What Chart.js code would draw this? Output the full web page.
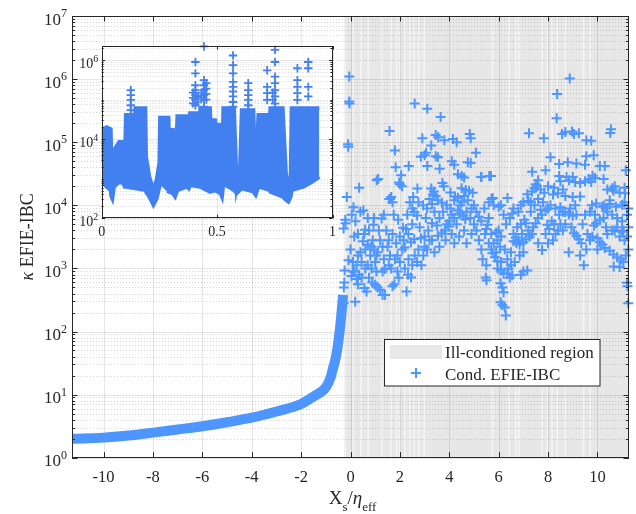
<!DOCTYPE html>
<html>
<head>
<meta charset="utf-8">
<script src="https://cdn.jsdelivr.net/npm/chart.js@4/dist/chart.umd.min.js"></script>
<style>
  html, body { margin: 0; padding: 0; background: #fff; }
  #wrap { position: relative; width: 636px; height: 514px; }
  #main { position: absolute; left: 0; top: 0; }
  #inset { position: absolute; left: 60px; top: 36px; }
</style>
</head>
<body>
<div id="wrap">
  <canvas id="main" width="636" height="514"></canvas>
  <canvas id="inset" width="285" height="210"></canvas>
</div>
<script>
// ---- main axes
const xRange = [-11.28, 11.28];
const yRange = [1, 1e7];
const xTicks = [-10, -8, -6, -4, -2, 0, 2, 4, 6, 8, 10];
const yDecades = [0, 1, 2, 3, 4, 5, 6, 7];

// ill-conditioned region (grey) and the lighter slits inside it
const illStart = -0.27, illEnd = 11.28;
const illGaps = [-0.22, 0.12, 0.42, 0.72, 1.26, 1.64, 1.87, 2.0, 2.2, 2.4, 2.58, 2.76, 2.98,
                 5.75, 6.43, 6.7, 6.83, 7.77, 7.97, 8.17, 8.37, 8.7, 9.44, 9.71];

// well conditioned branch (dense markers -> thick band)
const curveX = [-11.28, -10, -9, -8, -7, -6, -5, -4, -3, -2, -1.5, -1.0, -0.8, -0.7, -0.6, -0.5, -0.4, -0.35, -0.3];
const curveY = [2.0, 2.08, 2.25, 2.5, 2.8, 3.15, 3.65, 4.3, 5.4, 7.1, 9.3, 13, 19, 27, 38, 65, 140, 230, 380];

// scattered condition numbers [x, kappa]
const condXY = [
  [-0.05, 1.1e6], [-0.05, 4.4e5], [-0.04, 4.1e5], [-0.10, 9.3e4], [-0.09, 8.5e4],
  [1.58, 1.5e5], [1.80, 7.4e4], [2.60, 4.1e5], [3.11, 3.4e5], [3.65, 2.5e5],
  [2.91, 1.15e5], [3.45, 1.3e5], [3.55, 1.2e5], [3.80, 1.07e5], [4.15, 1.12e5],
  [4.30, 1.0e5], [4.83, 1.35e5], [4.87, 1.15e5], [5.08, 6.8e4], [4.75, 4.8e4],
  [3.27, 8.9e4], [3.06, 6.8e4], [3.00, 6.2e4], [2.85, 5.9e4], [3.54, 5.8e4],
  [3.45, 6.0e4], [4.10, 5.0e4], [4.20, 4.4e4], [4.87, 4.7e4], [2.36, 4.2e4],
  [1.83, 4.0e4], [3.11, 4.2e4], [3.61, 3.8e4], [2.05, 3.0e4], [1.06, 2.5e4],
  [1.12, 2.6e4], [5.31, 2.8e4], [4.35, 3.1e4], [4.50, 2.9e4], [4.60, 2.75e4],
  [5.28, 2.8e4], [5.69, 2.9e4], [1.97, 2.3e4], [2.00, 2.15e4], [2.71, 1.85e4],
  [3.27, 1.85e4], [3.72, 2.25e4], [3.78, 2.0e4], [3.38, 1.66e4], [3.35, 1.5e4],
  [2.09, 2.0e4], [0.35, 1.9e4], [2.54, 1.35e4], [1.65, 1.35e4], [1.60, 1.26e4],
  [4.67, 1.74e4], [4.50, 1.86e4], [4.80, 1.7e4], [4.95, 1.58e4], [4.23, 1.38e4],
  [4.35, 1.32e4],
  [8.88, 1.02e6], [8.37, 5.8e5], [8.35, 2.4e5], [7.23, 1.38e5], [7.83, 1.15e5],
  [8.57, 1.35e5], [8.70, 1.45e5], [8.97, 1.48e5], [9.05, 1.35e5], [9.25, 1.38e5],
  [9.55, 1.07e5], [9.75, 1.05e5], [10.55, 1.6e5], [10.52, 1.4e5], [8.10, 5.8e4],
  [9.55, 6.0e4], [9.85, 6.2e4], [5.62, 2.9e4], [7.36, 3.4e4], [8.45, 4.5e4],
  [8.80, 4.8e4], [9.15, 4.6e4], [9.50, 4.4e4], [10.10, 4.2e4], [10.30, 4.2e4],
  [11.15, 3.6e4], [7.90, 3.6e4], [7.60, 2.5e4], [7.50, 2.15e4], [7.45, 1.86e4],
  [7.35, 1.66e4], [8.45, 2.9e4], [8.50, 2.4e4], [8.75, 2.8e4], [8.85, 2.5e4],
  [9.00, 2.8e4], [9.10, 2.35e4], [9.30, 2.25e4], [9.50, 2.4e4], [9.65, 2.6e4],
  [9.80, 2.95e4], [9.75, 2.35e4], [9.90, 2.7e4], [10.25, 2.6e4], [10.60, 1.86e4],
  [10.65, 1.7e4], [11.12, 1.55e4], [6.36, 1.3e4], [5.71, 1.26e4], [7.16, 1.5e4],
  [7.20, 1.17e4], [7.30, 1.12e4], [8.20, 1.48e4], [8.40, 1.55e4], [8.70, 1.4e4],
  [9.00, 1.35e4], [9.30, 1.38e4], [10.26, 9.8e3], [10.35, 8.9e3], [10.50, 1.2e4],
  [7.70, 8.5e3], [8.50, 9.3e3], [10.40, 1.78e4], [10.70, 2.0e4], [10.90, 1.58e4],
  [11.10, 1.9e4], [7.55, 2.0e4], [7.70, 1.78e4], [7.85, 1.58e4], [8.00, 2.0e4],
  [8.25, 1.9e4], [8.60, 1.78e4],
  [-0.15, 1.35e4], [0.12, 9.3e3], [0.52, 8.3e3], [-0.21, 5.9e3], [-0.20, 5.2e3],
  [-0.28, 4.3e3], [0.59, 4.1e3], [0.93, 4.9e3], [1.26, 6.2e3], [1.93, 5.9e3],
  [2.13, 4.4e3], [2.25, 4.2e3], [1.57, 1.26e4], [1.70, 1.12e4], [2.40, 1.12e4],
  [2.94, 1.0e4], [3.10, 8.9e3], [3.30, 1.05e4], [2.58, 7.8e3], [2.70, 6.9e3],
  [3.30, 5.2e3], [3.50, 4.8e3], [3.54, 1.2e4], [3.70, 1.1e4], [3.90, 1.0e4],
  [4.20, 1.2e4], [4.50, 1.12e4], [4.75, 1.2e4], [5.00, 1.0e4], [4.43, 7.4e3],
  [4.55, 6.8e3], [4.65, 6.0e3], [3.82, 4.0e3], [3.70, 3.6e3], [3.54, 3.3e3],
  [3.00, 3.2e3], [2.85, 3.0e3], [2.58, 2.9e3], [2.45, 2.6e3], [2.20, 2.15e3],
  [2.10, 2.0e3], [1.90, 1.6e3], [1.80, 1.4e3], [1.40, 980], [1.30, 890],
  [2.33, 790], [2.45, 720], [1.78, 560], [1.70, 520], [1.40, 380],
  [1.30, 380], [2.27, 430], [2.87, 1.12e3], [3.40, 1.8e3], [4.20, 2.5e3],
  [0.50, 2.7e3], [0.70, 2.4e3], [0.85, 2.2e3], [0.95, 2.0e3], [1.10, 1.8e3],
  [-0.08, 1.35e3], [0.10, 1.26e3], [0.25, 1.12e3], [0.10, 890], [0.04, 760],
  [0.25, 680], [0.88, 600], [1.00, 550], [1.10, 500], [1.20, 460],
  [0.56, 490], [0.65, 430], [-0.25, 600], [-0.27, 500], [0.19, 295],
  [-0.28, 280], [-0.24, 930],
  [1.50, 2.2e3], [1.60, 1.6e3], [1.20, 2.8e3], [1.35, 1.4e3], [2.00, 1.26e3],
  [2.20, 1.0e3], [1.55, 1.12e3], [0.30, 3.5e3], [0.40, 1.8e3], [0.70, 1.12e3],
  [0.85, 1.0e3], [1.05, 890], [0.35, 790], [1.95, 710], [2.60, 1.6e3],
  [2.75, 2.0e3], [3.00, 2.2e3], [3.20, 2.8e3], [3.90, 5.0e3], [4.00, 5.6e3],
  [4.20, 6.3e3], [4.35, 8.3e3], [4.90, 8.9e3], [5.10, 7.9e3], [5.20, 6.6e3],
  [5.30, 5.6e3], [5.10, 4.0e3], [5.20, 2.8e3], [5.30, 2.0e3], [5.35, 1.4e3],
  [5.50, 1.12e3], [4.00, 4.6e3], [4.30, 5.0e3], [4.60, 4.0e3],
  [0.00, 2.0e3], [0.15, 3.2e3], [0.20, 5.6e3], [0.30, 1.6e3], [0.45, 1.26e3],
  [0.55, 3.5e3], [0.60, 2.0e3], [0.75, 4.0e3], [0.80, 1.6e3], [0.90, 2.8e3],
  [0.95, 6.3e3], [1.00, 1.26e3], [0.05, 7.1e3], [0.40, 7.9e3], [0.70, 6.3e3],
  [0.15, 890], [0.30, 560], [0.45, 710], [0.60, 1.0e3], [0.75, 710],
  [1.15, 4.0e3], [1.30, 2.2e3], [1.45, 4.0e3], [1.55, 2.8e3], [1.70, 3.5e3],
  [1.85, 2.5e3], [2.00, 3.2e3], [2.15, 2.8e3], [2.35, 3.5e3], [2.50, 5.0e3],
  [1.35, 7.1e3], [1.75, 7.1e3], [2.30, 7.1e3], [1.05, 1.6e3], [1.65, 1.0e3],
  [2.35, 1.4e3], [2.50, 1.12e3], [1.90, 890],
  [2.80, 4.5e3], [3.05, 6.3e3], [3.15, 4.0e3], [3.40, 7.9e3], [3.60, 6.3e3],
  [3.75, 7.9e3], [4.05, 8.9e3], [4.10, 7.1e3], [4.45, 1.0e4], [4.70, 7.9e3],
  [4.85, 6.3e3], [5.00, 5.0e3], [3.20, 1.26e4], [3.45, 1.4e4], [2.75, 1.12e4],
  [2.50, 8.9e3], [4.60, 1.4e4], [4.05, 1.6e4],
  [2.70, 1.26e3], [2.95, 1.6e3], [3.10, 2.0e3], [3.30, 2.8e3], [3.60, 2.2e3],
  [3.85, 2.8e3], [4.10, 3.5e3], [4.40, 3.2e3], [4.70, 2.5e3], [4.90, 3.5e3],
  [5.76, 1.3e4], [5.42, 8.9e3], [6.55, 7.4e3], [6.45, 6.3e3], [5.55, 4.9e3],
  [5.50, 4.2e3], [5.45, 3.5e3], [6.00, 4.0e3], [5.90, 3.7e3], [6.70, 3.1e3],
  [6.80, 2.8e3], [6.60, 2.7e3], [5.75, 1.74e3], [5.85, 1.5e3], [5.95, 1.3e3],
  [6.10, 1.26e3], [6.72, 2.5e3], [6.85, 2.4e3], [7.00, 2.6e3], [7.10, 2.9e3],
  [7.25, 3.2e3], [7.35, 3.5e3], [7.40, 4.5e3], [7.50, 5.2e3], [7.60, 6.3e3],
  [7.75, 7.1e3], [7.90, 8.3e3], [8.00, 8.9e3], [7.04, 5.9e3], [7.10, 5.2e3],
  [7.97, 4.9e3], [8.05, 4.2e3], [8.15, 5.6e3], [7.76, 1.95e3], [7.16, 930],
  [7.00, 890], [6.90, 790], [6.55, 780], [6.45, 710], [6.35, 830],
  [6.08, 580], [6.15, 500], [6.20, 420], [6.08, 290], [6.15, 260],
  [6.25, 240], [6.29, 180], [5.51, 650], [5.48, 720], [5.96, 1.0e3],
  [6.10, 930], [6.20, 830], [8.70, 7.8e3], [8.85, 7.2e3], [9.00, 6.8e3],
  [9.15, 7.1e3], [9.05, 3.6e3], [9.15, 3.3e3], [9.25, 2.9e3], [9.35, 2.5e3],
  [8.84, 1.8e3], [9.86, 4.8e3], [9.95, 5.2e3], [10.10, 5.8e3], [10.25, 6.3e3],
  [9.78, 1.0e4], [9.95, 1.07e4], [10.20, 9.5e3], [10.50, 1.05e4], [10.75, 9.5e3],
  [11.00, 1.02e4], [10.10, 2.6e3], [10.20, 2.4e3], [10.30, 2.1e3], [10.50, 1.9e3],
  [10.65, 1.66e3], [10.80, 1.5e3], [10.95, 1.38e3], [11.05, 1.26e3], [10.66, 1.07e3],
  [10.90, 1.05e3], [11.20, 590], [11.22, 520], [11.25, 280], [8.50, 5.0e3],
  [8.60, 4.0e3], [8.30, 3.5e3], [5.80, 1.0e4], [6.00, 9.5e3], [6.90, 1.0e4],
  [5.60, 1.12e4], [6.10, 1.0e4], [6.60, 8.9e3], [7.00, 1.12e4],
  [5.60, 2.5e3], [5.70, 2.0e3], [5.90, 1.8e3], [6.05, 2.2e3],
  [9.60, 3.5e3], [9.80, 3.2e3], [10.00, 3.0e3], [10.40, 3.5e3], [10.60, 4.0e3],
  [10.80, 4.5e3], [11.00, 3.8e3], [11.20, 3.2e3], [10.90, 3.2e3], [11.10, 2.8e3],
  [11.25, 2.0e3], [11.15, 1.6e3],
  [5.60, 6.3e3], [5.70, 3.5e3], [5.80, 2.5e3], [5.95, 2.8e3], [6.10, 3.2e3],
  [6.25, 2.0e3], [6.35, 1.4e3], [6.50, 1.8e3], [6.60, 3.5e3], [6.75, 4.5e3],
  [6.90, 5.0e3], [6.95, 3.5e3], [6.30, 5.0e3], [6.20, 7.1e3], [6.80, 7.9e3],
  [6.40, 1.0e3], [6.50, 1.12e3], [6.65, 1.26e3], [6.85, 1.6e3], [7.00, 1.8e3],
  [7.20, 4.0e3], [7.30, 7.9e3], [7.45, 1.0e4], [7.60, 1.26e4], [7.80, 1.12e4],
  [8.10, 1.0e4], [8.30, 8.9e3], [8.45, 7.1e3], [8.60, 7.9e3], [8.90, 8.9e3],
  [9.10, 1.0e4], [8.25, 5.0e3], [8.40, 4.0e3], [8.70, 5.0e3], [8.95, 4.5e3],
  [7.90, 3.5e3], [7.60, 2.5e3], [8.00, 2.5e3], [8.20, 2.8e3],
  [9.40, 5.0e3], [9.50, 7.1e3], [9.70, 7.9e3], [9.90, 7.1e3], [10.40, 7.9e3],
  [10.60, 7.1e3], [10.80, 6.3e3], [11.00, 5.6e3], [11.20, 7.1e3], [11.25, 8.9e3],
  [9.55, 2.0e3], [9.70, 2.8e3], [10.35, 4.5e3], [10.70, 4.0e3], [11.05, 4.0e3],
  [11.25, 4.5e3], [11.10, 1.12e4], [9.30, 1.6e3], [9.45, 1.12e3], [10.00, 2.0e3]
];

// ---- inset
const insetXRange = [0, 1];
const insetYRange = [100, 2.26e6];
const insetXTicks = [0, 0.5, 1];
const insetYDecades = [2, 4, 6];
const insetX = [0, 0.004, 0.022, 0.039, 0.042, 0.046, 0.053, 0.076, 0.094, 0.1,
                0.105, 0.144, 0.146, 0.189, 0.192, 0.206, 0.224, 0.238, 0.25, 0.253,
                0.289, 0.29, 0.308, 0.318, 0.328, 0.371, 0.377, 0.383, 0.426, 0.427,
                0.469, 0.471, 0.491, 0.492, 0.515, 0.521, 0.527, 0.573, 0.585, 0.599,
                0.607, 0.657, 0.667, 0.679, 0.729, 0.731, 0.784, 0.799, 0.809, 0.819,
                0.823, 0.874, 0.91, 0.943];
const insetHigh = [2500, 17800, 20000, 17800, 2500, 1380, 5200, 8500, 8500, 2000,
                   41000, 41000, 60000, 60000, 3600, 1120, 515, 930, 2500, 35000,
                   35000, 17000, 17000, 1120, 38000, 38000, 1120, 45000, 45000, 60000,
                   60000, 30000, 30000, 23000, 23000, 630, 60000, 60000, 630, 1660,
                   54000, 54000, 760, 41000, 41000, 60000, 60000, 1120, 515, 1380,
                   60000, 60000, 60000, 60000];
const insetLow = [830, 790, 630, 515, 355, 316, 630, 830, 760, 630,
                  630, 575, 575, 515, 470, 355, 219, 316, 630, 830,
                  515, 470, 430, 355, 515, 630, 575, 690, 630, 630,
                  470, 470, 515, 515, 430, 355, 760, 515, 430, 515,
                  575, 470, 390, 630, 515, 470, 355, 290, 263, 355,
                  515, 630, 830, 1120];
const spikeXY = [
  [0.126, 1.74e5], [0.126, 1.29e5], [0.126, 9.8e4], [0.126, 7.2e4], [0.126, 5.4e4], [0.126, 4.1e4],
  [0.406, 8.9e5], [0.406, 4.6e5], [0.406, 2.3e5], [0.406, 1.74e5], [0.406, 1.29e5], [0.406, 9.8e4], [0.406, 7.2e4],
  [0.396, 1.5e5], [0.396, 1.1e5], [0.396, 8.0e4], [0.416, 1.2e5], [0.416, 8.5e4],
  [0.443, 2.2e6], [0.443, 3.1e5], [0.443, 2.3e5], [0.443, 1.74e5], [0.443, 1.29e5], [0.443, 9.8e4], [0.443, 6.6e4],
  [0.453, 2.6e5], [0.453, 1.9e5], [0.453, 1.4e5], [0.453, 1.0e5], [0.433, 1.5e5], [0.433, 1.1e5],
  [0.569, 1.3e6], [0.569, 7.4e5], [0.569, 4.6e5], [0.569, 2.8e5], [0.569, 2.1e5], [0.569, 1.6e5], [0.569, 1.2e5], [0.569, 8.7e4], [0.569, 6.6e4],
  [0.635, 2.6e5], [0.635, 1.74e5], [0.635, 1.29e5], [0.635, 9.8e4], [0.635, 7.2e4], [0.635, 5.4e4],
  [0.717, 5.5e5], [0.717, 2.1e5], [0.717, 1.45e5], [0.717, 9.8e4],
  [0.751, 1.8e6], [0.751, 8.9e5], [0.751, 3.8e5], [0.751, 2.6e5], [0.751, 1.74e5], [0.751, 1.2e5], [0.751, 7.9e4],
  [0.741, 1.5e5], [0.741, 1.0e5],
  [0.848, 6.2e5], [0.848, 3.1e5], [0.848, 2.1e5], [0.848, 1.45e5], [0.848, 9.8e4],
  [0.895, 8.9e5], [0.895, 6.2e5], [0.895, 2.1e5], [0.895, 1.2e5]
];

// ---- styles
const ink = 'rgb(38,38,38)';
const blue = 'rgb(77,150,255)';
const insetBlue = 'rgb(66,128,240)';
const serif = '"Liberation Serif", "Times New Roman", serif';

function seg(ctx, x0, y0, x1, y1) {
  ctx.beginPath(); ctx.moveTo(x0, y0); ctx.lineTo(x1, y1); ctx.stroke();
}

// "10" with a superscript exponent, right aligned at xr
function tenPow(ctx, e, xr, yb, size, supSize, supRise) {
  ctx.textAlign = 'left';
  ctx.textBaseline = 'alphabetic';
  ctx.font = supSize + 'px ' + serif;
  const sw = ctx.measureText(String(e)).width;
  ctx.fillText(String(e), xr - sw, yb - supRise);
  ctx.font = size + 'px ' + serif;
  const bw = ctx.measureText('10').width;
  ctx.fillText('10', xr - sw - bw, yb);
}

const mainDecor = {
  id: 'mainDecor',
  beforeDatasetsDraw(chart) {
    const { ctx, chartArea: a, scales: { x, y } } = chart;
    const h = a.bottom - a.top;
    ctx.save();
    ctx.fillStyle = '#fff';
    ctx.fillRect(a.left, a.top, a.right - a.left, h);
    const g0 = x.getPixelForValue(illStart), g1 = x.getPixelForValue(illEnd);
    ctx.fillStyle = 'rgb(231,231,231)';
    ctx.fillRect(g0, a.top, g1 - g0, h);
    ctx.fillStyle = 'rgba(255,255,255,0.55)';
    illGaps.forEach(v => {
      const p = x.getPixelForValue(v);
      ctx.fillRect(p - 0.8, a.top, 1.6, h);
    });
    // minor grid (dotted)
    ctx.lineWidth = 1;
    ctx.strokeStyle = 'rgba(0,0,0,0.17)';
    ctx.setLineDash([1, 2]);
    for (let e = 0; e < 7; e++) {
      for (let k = 2; k <= 9; k++) {
        const p = Math.round(y.getPixelForValue(k * Math.pow(10, e))) + 0.5;
        seg(ctx, a.left, p, a.right, p);
      }
    }
    ctx.setLineDash([]);
    ctx.strokeStyle = 'rgba(0,0,0,0.1)';
    xTicks.forEach(v => {
      const p = Math.round(x.getPixelForValue(v)) + 0.5;
      seg(ctx, p, a.top, p, a.bottom);
    });
    yDecades.forEach(e => {
      const p = Math.round(y.getPixelForValue(Math.pow(10, e))) + 0.5;
      seg(ctx, a.left, p, a.right, p);
    });
    ctx.restore();
  },
  afterDraw(chart) {
    const { ctx, chartArea: a, scales: { x, y } } = chart;
    ctx.save();
    ctx.strokeStyle = ink;
    ctx.fillStyle = ink;
    ctx.lineWidth = 1;
    // ticks
    xTicks.forEach(v => {
      const p = Math.round(x.getPixelForValue(v)) + 0.5;
      seg(ctx, p, a.bottom, p, a.bottom - 5.5);
      seg(ctx, p, a.top, p, a.top + 5.5);
    });
    for (let e = 0; e < 7; e++) {
      for (let k = 2; k <= 9; k++) {
        const p = Math.round(y.getPixelForValue(k * Math.pow(10, e))) + 0.5;
        seg(ctx, a.left, p, a.left + 3, p);
        seg(ctx, a.right, p, a.right - 3, p);
      }
    }
    yDecades.forEach(e => {
      const p = Math.round(y.getPixelForValue(Math.pow(10, e))) + 0.5;
      seg(ctx, a.left, p, a.left + 5.5, p);
      seg(ctx, a.right, p, a.right - 5.5, p);
    });
    // box
    ctx.strokeRect(Math.round(a.left) + 0.5, Math.round(a.top) + 0.5,
                   Math.round(a.right - a.left) - 1, Math.round(a.bottom - a.top) - 1);
    // tick labels
    ctx.font = '16.5px ' + serif;
    ctx.textAlign = 'center';
    ctx.textBaseline = 'alphabetic';
    xTicks.forEach(v => {
      ctx.fillText(String(v), x.getPixelForValue(v), a.bottom + 24);
    });
    yDecades.forEach(e => {
      tenPow(ctx, e, a.left - 5, y.getPixelForValue(Math.pow(10, e)) + 8.5, 17, 12, 7.5);
    });
    // x title: X_s / eta_eff
    const parts = [
      { t: 'X', f: '19px ' + serif, dy: 0 },
      { t: 's', f: '13px ' + serif, dy: 7 },
      { t: '/', f: '19px ' + serif, dy: 0 },
      { t: 'η', f: 'italic 19px ' + serif, dy: 0 },
      { t: 'eff', f: '13px ' + serif, dy: 7 }
    ];
    let tw = 0;
    parts.forEach(p => { ctx.font = p.f; p.w = ctx.measureText(p.t).width; tw += p.w; });
    let cx = x.getPixelForValue(0) + 2 - tw / 2;
    ctx.textAlign = 'left';
    parts.forEach(p => { ctx.font = p.f; ctx.fillText(p.t, cx, 504 + p.dy); cx += p.w; });
    // y title
    ctx.translate(28, (a.top + a.bottom) / 2);
    ctx.rotate(-Math.PI / 2);
    ctx.textBaseline = 'middle';
    ctx.font = 'italic 18px ' + serif;
    const kw = ctx.measureText('κ').width;
    ctx.font = '18px ' + serif;
    const rw = ctx.measureText(' EFIE-IBC').width;
    const sx = -(kw + rw) / 2;
    ctx.font = 'italic 18px ' + serif;
    ctx.fillText('κ', sx, 0);
    ctx.font = '18px ' + serif;
    ctx.fillText(' EFIE-IBC', sx + kw, 0);
    ctx.restore();

    // legend
    ctx.save();
    ctx.fillStyle = '#fff';
    ctx.fillRect(384.5, 339.5, 215.5, 46.5);
    ctx.strokeStyle = ink;
    ctx.lineWidth = 1;
    ctx.strokeRect(384.5, 339.5, 215.5, 46.5);
    ctx.fillStyle = 'rgb(231,231,231)';
    ctx.fillRect(390, 345, 52, 14);
    ctx.strokeStyle = blue;
    ctx.lineWidth = 2;
    seg(ctx, 411, 373, 421, 373);
    seg(ctx, 416, 368, 416, 378);
    ctx.fillStyle = ink;
    ctx.font = '17px ' + serif;
    ctx.textAlign = 'left';
    ctx.textBaseline = 'alphabetic';
    ctx.fillText('Ill-conditioned region', 445, 358);
    ctx.fillText('Cond. EFIE-IBC', 445, 380);
    ctx.restore();
  }
};

new Chart(document.getElementById('main'), {
  type: 'scatter',
  data: {
    datasets: [
      {
        label: 'curve',
        data: curveX.map((v, i) => ({ x: v, y: curveY[i] })),
        showLine: true,
        borderColor: blue,
        borderWidth: 10,
        pointRadius: 0,
        cubicInterpolationMode: 'monotone',
        clip: 0
      },
      {
        label: 'Cond. EFIE-IBC',
        data: condXY.map(p => ({ x: p[0], y: p[1] })),
        pointStyle: 'cross',
        pointRadius: 5,
        borderWidth: 2,
        borderColor: blue,
        backgroundColor: blue,
        clip: false
      }
    ]
  },
  options: {
    responsive: false,
    animation: false,
    layout: { padding: { left: 72, top: 16, right: 3.5, bottom: 56.3 } },
    scales: {
      x: { type: 'linear', min: xRange[0], max: xRange[1], display: false },
      y: { type: 'logarithmic', min: yRange[0], max: yRange[1], display: false }
    },
    plugins: { legend: { display: false }, tooltip: { enabled: false } }
  },
  plugins: [mainDecor]
});

const insetDecor = {
  id: 'insetDecor',
  beforeDatasetsDraw(chart) {
    const { ctx, chartArea: a, scales: { x, y } } = chart;
    ctx.save();
    ctx.fillStyle = '#fff';
    ctx.fillRect(a.left, a.top, a.right - a.left, a.bottom - a.top);
    ctx.lineWidth = 1;
    ctx.strokeStyle = 'rgba(0,0,0,0.17)';
    ctx.setLineDash([1, 2]);
    for (let e = 2; e <= 6; e++) {
      for (let k = 1; k <= 9; k++) {
        if (k === 1 && insetYDecades.includes(e)) continue;
        const p = Math.round(y.getPixelForValue(k * Math.pow(10, e))) + 0.5;
        if (p < a.top) continue;
        seg(ctx, a.left, p, a.right, p);
      }
    }
    ctx.setLineDash([]);
    ctx.strokeStyle = 'rgba(0,0,0,0.1)';
    insetXTicks.forEach(v => {
      const p = Math.round(x.getPixelForValue(v)) + 0.5;
      seg(ctx, p, a.top, p, a.bottom);
    });
    insetYDecades.forEach(e => {
      const p = Math.round(y.getPixelForValue(Math.pow(10, e))) + 0.5;
      seg(ctx, a.left, p, a.right, p);
    });
    ctx.restore();
  },
  afterDraw(chart) {
    const { ctx, chartArea: a, scales: { x, y } } = chart;
    ctx.save();
    ctx.strokeStyle = ink;
    ctx.fillStyle = ink;
    ctx.lineWidth = 1;
    insetXTicks.forEach(v => {
      const p = Math.round(x.getPixelForValue(v)) + 0.5;
      seg(ctx, p, a.bottom, p, a.bottom - 3.5);
      seg(ctx, p, a.top, p, a.top + 3.5);
    });
    for (let e = 2; e <= 6; e++) {
      for (let k = 1; k <= 9; k++) {
        const p = Math.round(y.getPixelForValue(k * Math.pow(10, e))) + 0.5;
        if (p < a.top) continue;
        const len = (k === 1 && insetYDecades.includes(e)) ? 3.5 : 2;
        seg(ctx, a.left, p, a.left + len, p);
        seg(ctx, a.right, p, a.right - len, p);
      }
    }
    ctx.strokeRect(Math.round(a.left) + 0.5, Math.round(a.top) + 0.5,
                   Math.round(a.right - a.left) - 1, Math.round(a.bottom - a.top) - 1);
    ctx.font = '14px ' + serif;
    ctx.textAlign = 'center';
    ctx.textBaseline = 'alphabetic';
    insetXTicks.forEach(v => ctx.fillText(String(v), x.getPixelForValue(v), a.bottom + 17.5));
    insetYDecades.forEach(e => {
      tenPow(ctx, e, a.left - 3.5, y.getPixelForValue(Math.pow(10, e)) + 7.5, 14, 10, 6);
    });
    ctx.restore();
  }
};

new Chart(document.getElementById('inset'), {
  type: 'scatter',
  data: {
    datasets: [
      {
        data: insetX.map((v, i) => ({ x: v, y: insetLow[i] })),
        showLine: true, borderColor: insetBlue, borderWidth: 4, pointRadius: 0, fill: false
      },
      {
        data: insetX.map((v, i) => ({ x: v, y: insetHigh[i] })),
        showLine: true, borderColor: insetBlue, borderWidth: 4, pointRadius: 0,
        fill: '-1', backgroundColor: insetBlue
      },
      {
        data: spikeXY.map(p => ({ x: p[0], y: p[1] })),
        pointStyle: 'cross', pointRadius: 4.2, borderWidth: 1.8,
        borderColor: insetBlue, backgroundColor: insetBlue, clip: false
      }
    ]
  },
  options: {
    responsive: false,
    animation: false,
    layout: { padding: { left: 41.7, top: 10, right: 12.5, bottom: 27.7 } },
    scales: {
      x: { type: 'linear', min: insetXRange[0], max: insetXRange[1], display: false },
      y: { type: 'logarithmic', min: insetYRange[0], max: insetYRange[1], display: false }
    },
    plugins: { legend: { display: false }, tooltip: { enabled: false } }
  },
  plugins: [insetDecor]
});
</script>
</body>
</html>
